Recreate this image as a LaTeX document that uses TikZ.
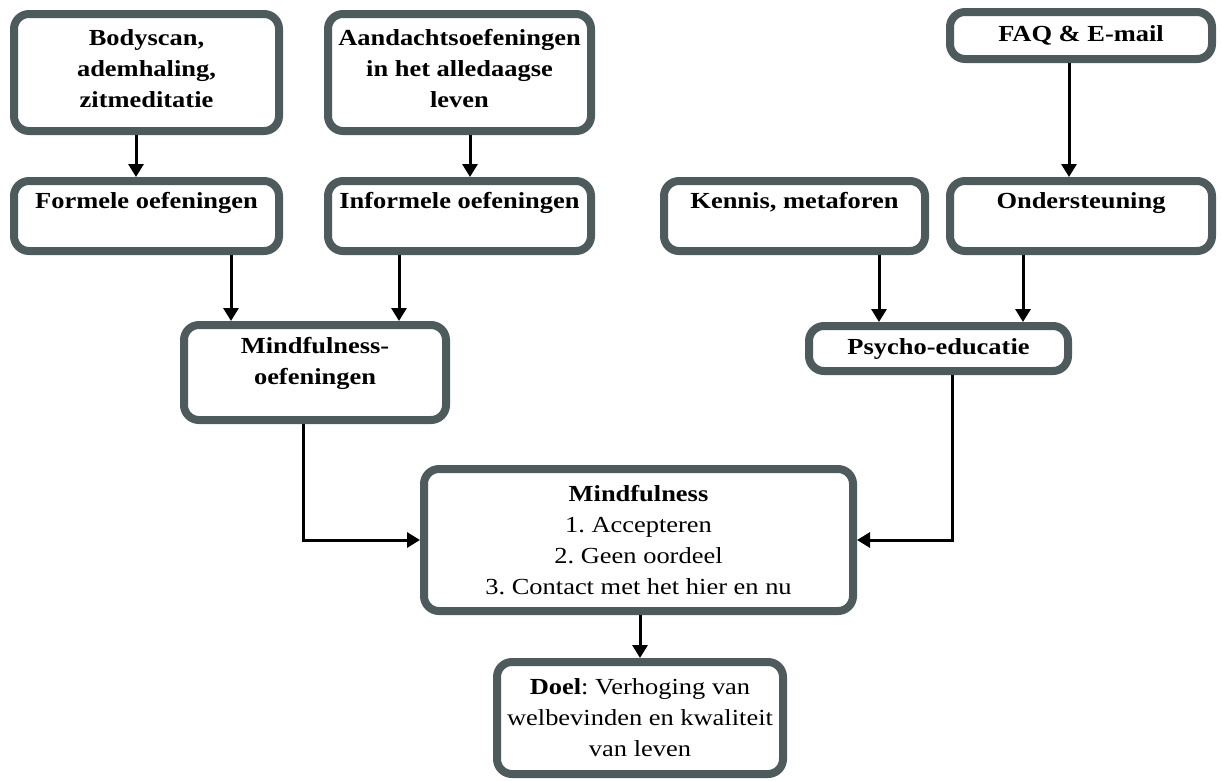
\documentclass[tikz,border=0pt]{standalone}
\usepackage{fontspec}
\setmainfont[FakeStretch=1.15]{Liberation Serif}
\usetikzlibrary{arrows.meta}
\frenchspacing
\definecolor{boxgray}{RGB}{78,91,93}
\tikzstyle{plain} = [rectangle, rounded corners=15pt, text centered, align=center, draw=boxgray, line width=8pt, fill=white, inner sep=0pt, font=\fontsize{23}{31}\selectfont]
\tikzstyle{heading} = [plain, font=\fontsize{23}{31}\selectfont\bfseries]
\tikzstyle{arrow} = [line width=3pt, -{Triangle[length=13pt,width=15pt]}]

\begin{document}
\begin{tikzpicture}[x=1pt, y=-1pt]
    \useasboundingbox (0,0) rectangle (1222,780);

    \node (bodyscan) [heading, minimum width=265pt, minimum height=117pt] at (146.5,72.5) {Bodyscan,\\ademhaling,\\zitmeditatie\\[-23pt]~};
    \node (aandacht) [heading, minimum width=263pt, minimum height=117pt] at (459.5,72.5) {Aandachtsoefeningen\\in het alledaagse\\leven\\[-23pt]~};
    \node (faq) [heading, minimum width=262pt, minimum height=47pt] at (1081,35.5) {FAQ \& E-mail};

    \node (formeel) [heading, minimum width=265pt, minimum height=70pt] at (146.5,216) {Formele oefeningen\\~};
    \node (informeel) [heading, minimum width=263pt, minimum height=70pt] at (459.5,216) {Informele oefeningen\\~};
    \node (kennis) [heading, minimum width=261pt, minimum height=70pt] at (794.5,216) {Kennis, metaforen\\~};
    \node (steun) [heading, minimum width=262pt, minimum height=70pt] at (1081,216) {Ondersteuning\\~};

    \node (oefening) [heading, minimum width=262pt, minimum height=95pt] at (315,372.5) {Mindfulness-\\oefeningen\\[-8pt]~};
    \node (psycho) [heading, minimum width=259pt, minimum height=45pt] at (938.5,348.5) {Psycho-educatie};

    \node (mindful) [plain, minimum width=429pt, minimum height=142pt] at (638.5,540) {\textbf{Mindfulness}\\1. Accepteren\\2. Geen oordeel\\3. Contact met het hier en nu};
    \node (doel) [plain, minimum width=286pt, minimum height=112pt] at (640,718) {\textbf{Doel}: Verhoging van\\welbevinden en kwaliteit\\van leven};

    \draw [arrow] ([xshift=-10.5pt]bodyscan.south) -- ([xshift=-10.5pt]formeel.north);
    \draw [arrow] ([xshift=10.5pt]aandacht.south) -- ([xshift=10.5pt]informeel.north);
    \draw [arrow] ([xshift=-12pt]faq.south) -- ([xshift=-12pt]steun.north);

    \draw [arrow] ([xshift=84.5pt]formeel.south) -- ([xshift=84.5pt]formeel.south |- oefening.north);
    \draw [arrow] ([xshift=-60.5pt]informeel.south) -- ([xshift=-60.5pt]informeel.south |- oefening.north);
    \draw [arrow] ([xshift=84.5pt]kennis.south) -- ([xshift=84.5pt]kennis.south |- psycho.north);
    \draw [arrow] ([xshift=-58pt]steun.south) -- ([xshift=-58pt]steun.south |- psycho.north);

    \draw [arrow] ([xshift=-12pt]oefening.south) |- (mindful.west);
    \draw [arrow] ([xshift=13.5pt]psycho.south) |- (mindful.east);
    \draw [arrow] ([xshift=1.5pt]mindful.south) -- (doel.north);
\end{tikzpicture}
\end{document}
